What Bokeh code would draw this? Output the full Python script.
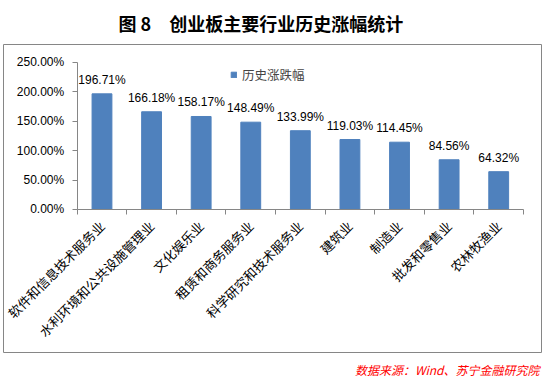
import math
from bokeh.plotting import figure
from bokeh.models import FixedTicker, PrintfTickFormatter, Range1d, Title
from bokeh.core.properties import value
from bokeh.embed import file_html
from bokeh.resources import INLINE

categories = ["软件和信息技术服务业", "水利环境和公共设施管理业", "文化娱乐业",
              "租赁和商务服务业", "科学研究和技术服务业", "建筑业", "制造业",
              "批发和零售业", "农林牧渔业"]
values = [196.71, 166.18, 158.17, 148.49, 133.99, 119.03, 114.45, 84.56, 64.32]
value_labels = ["196.71%", "166.18%", "158.17%", "148.49%", "133.99%",
                "119.03%", "114.45%", "84.56%", "64.32%"]
y_ticks = [0, 50, 100, 150, 200, 250]
legend_name = "历史涨跌幅"
title_text = "图 8　创业板主要行业历史涨幅统计"
source_text = "数据来源：Wind、苏宁金融研究院"

xs = list(range(1, len(categories) + 1))
boundaries = [i + 0.5 for i in range(0, len(categories) + 1)]

CJK = "Noto Sans CJK SC"
LAT = "Liberation Sans"
AXIS_COLOR = "#868686"

# frame = outer box; axes drawn inside it at fixed locations
p = figure(width=549, height=389, output_backend="svg", toolbar_location=None,
           x_range=Range1d(-0.986, 9.863), y_range=Range1d(-243.2, 280.6),
           min_border_left=3, min_border_right=8, min_border_top=44,
           min_border_bottom=37)
p.outline_line_color = AXIS_COLOR
p.outline_line_width = 1
p.background_fill_color = "white"
p.border_fill_color = "white"
p.xgrid.visible = False
p.ygrid.visible = False

p.vbar(x=xs, top=values, width=0.4, color="#4F81BD", legend_label=legend_name)
p.text(x=xs, y=values, text=value_labels, y_offset=-7, text_align="center",
       text_baseline="bottom", text_font=value(LAT), text_font_size="12px",
       text_color="#000000")

xaxis = p.xaxis[0]
xaxis.fixed_location = 0
xaxis.bounds = (boundaries[0], boundaries[-1])
xaxis.ticker = FixedTicker(ticks=xs, minor_ticks=boundaries)
xaxis.major_label_overrides = {x: c for x, c in zip(xs, categories)}
xaxis.major_label_orientation = math.pi / 4
xaxis.major_tick_line_color = None
xaxis.minor_tick_out = 5
xaxis.minor_tick_in = 0
xaxis.minor_tick_line_color = AXIS_COLOR
xaxis.axis_line_color = AXIS_COLOR
xaxis.major_label_text_font = CJK
xaxis.major_label_text_font_size = "13px"
xaxis.major_label_text_color = "#000000"
xaxis.major_label_standoff = 8

yaxis = p.yaxis[0]
yaxis.fixed_location = boundaries[0]
yaxis.bounds = (y_ticks[0], y_ticks[-1])
yaxis.ticker = FixedTicker(ticks=y_ticks)
yaxis.formatter = PrintfTickFormatter(format="%.2f%%")
yaxis.major_tick_out = 5
yaxis.major_tick_in = 0
yaxis.minor_tick_line_color = None
yaxis.major_tick_line_color = AXIS_COLOR
yaxis.axis_line_color = AXIS_COLOR
yaxis.major_label_text_font = LAT
yaxis.major_label_text_font_size = "12px"
yaxis.major_label_text_color = "#000000"
yaxis.major_label_standoff = 8

lg = p.legend[0]
lg.location = (227, 268)
lg.glyph_width = 7
lg.glyph_height = 7
lg.label_text_font = CJK
lg.label_text_font_size = "12.5px"
lg.label_standoff = 5
lg.background_fill_alpha = 0
lg.border_line_color = None
lg.padding = 0
lg.margin = 0

p.title = Title(text=title_text, align="left", offset=115, standoff=14,
                vertical_align="top",
                text_font=CJK, text_font_size="18px", text_font_style="bold",
                text_color="#000000")
p.add_layout(Title(text=source_text, align="right", offset=2, standoff=13,
                   text_font=CJK, text_font_size="12px", text_font_style="italic",
                   text_color="#FF0000"), "below")

open("out.html", "w").write(file_html(p, INLINE))
